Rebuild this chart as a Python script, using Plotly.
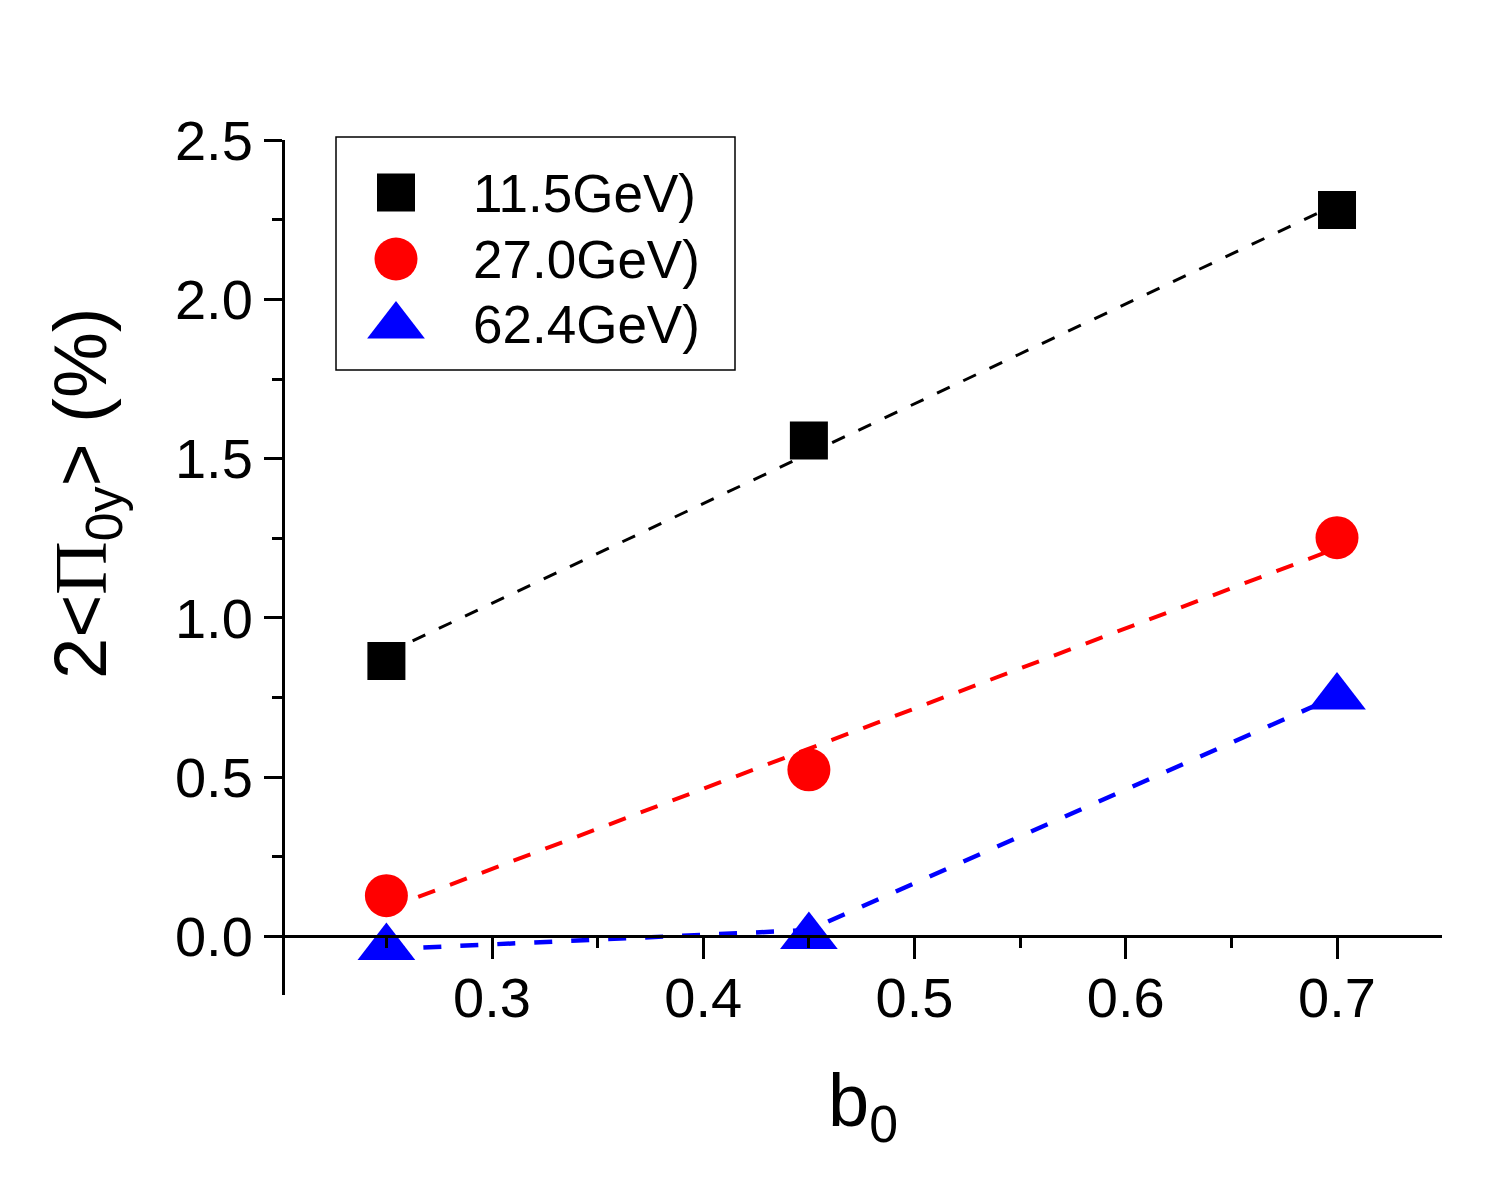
import plotly.graph_objects as go

# ---------------- data ----------------
b0 = [0.25, 0.45, 0.70]
pi_115 = [0.865, 1.557, 2.281]     # 11.5 GeV, squares
pi_270 = [0.128, 0.523, 1.252]     # 27.0 GeV, circles
pi_624 = [-0.035, 0.000, 0.752]    # 62.4 GeV, triangles

# dashed guide lines (as drawn in the picture)
fit_x = [0.25, 0.70]
fit_115 = [0.889, 2.299]
fit_270 = [0.086, 1.219]
line_624_x = [0.25, 0.45, 0.70]
line_624 = [-0.040, 0.020, 0.755]

series_labels = ["11.5GeV)", "27.0GeV)", "62.4GeV)"]
x_ticks = [0.3, 0.4, 0.5, 0.6, 0.7]
y_ticks = [0.0, 0.5, 1.0, 1.5, 2.0, 2.5]

# ---------------- styling ----------------
FONT = "Liberation Sans"
COLORS = ["#000000", "#FF0000", "#0000FF"]
SYMBOLS = ["square", "circle", "triangle-up"]
SIZES = [38, 43, 50]

W, H = 1509, 1192
L, R, T, B = 285, 67, 140, 197
PW, PH = W - L - R, H - T - B


def px(xp):
    return (xp - L) / PW


def py(yp):
    return (H - B - yp) / PH


fig = go.Figure()

# dashed lines
fig.add_trace(go.Scatter(x=fit_x, y=fit_115, mode="lines",
                         line=dict(color=COLORS[0], width=3, dash="14px,15px"),
                         showlegend=False, hoverinfo="skip"))
fig.add_trace(go.Scatter(x=fit_x, y=fit_270, mode="lines",
                         line=dict(color=COLORS[1], width=4, dash="18px,16px"),
                         showlegend=False, hoverinfo="skip"))
fig.add_trace(go.Scatter(x=line_624_x, y=line_624, mode="lines",
                         line=dict(color=COLORS[2], width=4.5, dash="18px,19px"),
                         showlegend=False, hoverinfo="skip"))

# markers
for ys, c, s, sz, name in zip([pi_115, pi_270, pi_624], COLORS, SYMBOLS, SIZES, series_labels):
    fig.add_trace(go.Scatter(x=b0, y=ys, mode="markers", name=name,
                             marker=dict(symbol=s, color=c, size=sz, opacity=1, line=dict(width=0)),
                             showlegend=False, cliponaxis=False))

# ---------------- custom legend (pixel-mapped overlay axes) ----------------
LEG_BOX = (336, 137, 735, 370)
LEG_MARK_X = 396
LEG_MARK_Y = [192.5, 259, 326]
LEG_TEXT_X = 471
LEG_TEXT_Y = [193, 259, 324]

fig.add_trace(go.Scatter(x=[LEG_MARK_X] * 3, y=LEG_MARK_Y, mode="markers",
                         marker=dict(symbol=SYMBOLS, color=COLORS, size=SIZES, opacity=1,
                                     line=dict(width=0)),
                         xaxis="x2", yaxis="y2", showlegend=False, hoverinfo="skip",
                         cliponaxis=False))

fig.add_shape(type="rect", xref="paper", yref="paper", line=dict(color="black", width=1.5),
              fillcolor="rgba(0,0,0,0)", layer="above",
              x0=px(LEG_BOX[0]), y0=py(LEG_BOX[1]), x1=px(LEG_BOX[2]), y1=py(LEG_BOX[3]))

annotations = []
for lab, ty in zip(series_labels, LEG_TEXT_Y):
    annotations.append(dict(x=px(LEG_TEXT_X), y=py(ty), xref="paper", yref="paper", text=lab,
                            showarrow=False, xanchor="left", yanchor="middle",
                            font=dict(family=FONT, size=53, color="black")))

# axis titles
annotations.append(dict(x=px(86), y=py(494), xref="paper", yref="paper",
                        text="2&lt;<span style=\"font-family:'Liberation Serif'\">Π</span><sub>0y</sub>&gt; (%)",
                        textangle=-90, showarrow=False, xanchor="center", yanchor="middle",
                        font=dict(family=FONT, size=74, color="black")))
annotations.append(dict(x=px(863), y=py(1106), xref="paper", yref="paper",
                        text="b<sub>0</sub>", showarrow=False,
                        xanchor="center", yanchor="middle",
                        font=dict(family=FONT, size=74, color="black")))

y_min, y_max = -0.184, 2.5005
x_min, x_max = 0.202, 0.7497
xaxis_pos = (0 - y_min) / (y_max - y_min)

fig.update_layout(
    width=W, height=H, autosize=False,
    margin=dict(l=L, r=R, t=T, b=B, pad=0),
    paper_bgcolor="white", plot_bgcolor="white",
    showlegend=False,
    annotations=annotations,
    xaxis=dict(range=[x_min, x_max], tickvals=x_ticks, ticktext=[f"{v:.1f}" for v in x_ticks],
               anchor="free", position=xaxis_pos,
               showline=True, linecolor="black", linewidth=3,
               ticks="outside", ticklen=21, tickwidth=3, tickcolor="black",
               ticklabelstandoff=-10,
               minor=dict(dtick=0.05, tick0=0.0, ticks="outside", ticklen=10, tickwidth=3, tickcolor="black"),
               showgrid=False, zeroline=False,
               tickfont=dict(family=FONT, size=56, color="black")),
    yaxis=dict(range=[y_min, y_max], tickvals=y_ticks, ticktext=[f"{v:.1f}" for v in y_ticks],
               showline=True, linecolor="black", linewidth=3,
               ticks="outside", ticklen=18, tickwidth=3, tickcolor="black",
               minor=dict(dtick=0.25, tick0=0.0, ticks="outside", ticklen=10, tickwidth=3, tickcolor="black"),
               showgrid=False, zeroline=False,
               tickfont=dict(family=FONT, size=56, color="black")),
    xaxis2=dict(range=[L, W - R], overlaying="x", anchor="y2", visible=False, fixedrange=True),
    yaxis2=dict(range=[H - B, T], overlaying="y", anchor="x2", visible=False, fixedrange=True),
)

fig.write_html("out.html")
